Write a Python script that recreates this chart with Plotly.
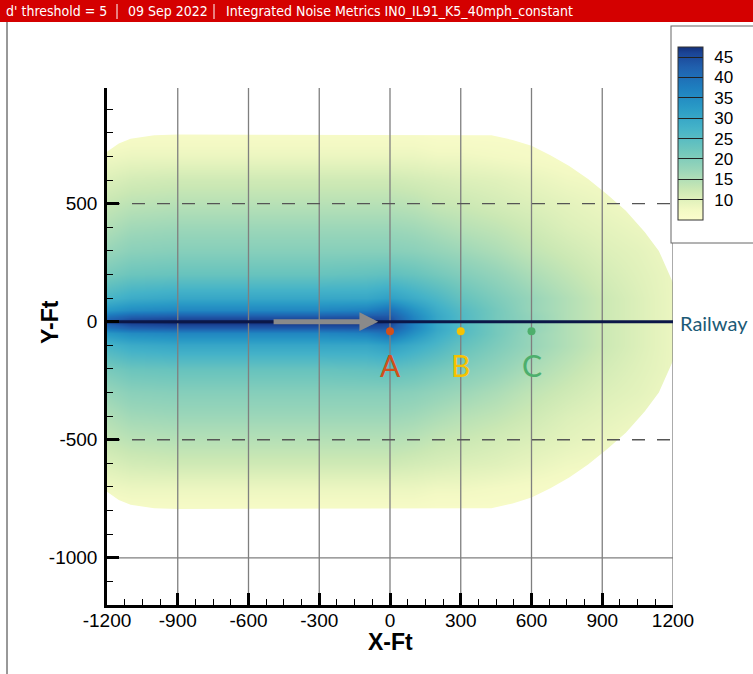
import plotly.graph_objects as go

# ---------------- data ----------------
X_ST = [-1200, -1100, -900, -600, -300, -100, 0, 100, 200, 300, 450, 600, 750, 900, 1050, 1200]
Y_HALF = [0, 25, 50, 100, 200, 300, 400, 500, 600, 700, 800]
# noise metric values, one row per |y| in Y_HALF, one column per x in X_ST
Z_HALF = [
    [44, 47, 48, 48, 48, 48, 46, 37, 30, 26, 21.5, 18, 15, 12.5, 10.5, 8.5],
    [39, 42, 43, 43, 43, 43.5, 43.5, 36, 30, 26, 21.5, 18, 15, 12.5, 10.5, 8.5],
    [33, 35, 36, 36, 36, 37, 40, 34, 29, 25.5, 21.5, 17.5, 15, 12.5, 10.5, 8.5],
    [27, 29, 30, 30, 30, 30, 31.5, 29, 26.5, 23.5, 20.5, 17.5, 15, 12.5, 10.5, 8.5],
    [21, 22.5, 23, 23, 23, 23.5, 24, 23, 21.5, 20, 18, 15.5, 13.5, 11.5, 10, 8.5],
    [17.5, 19, 19.5, 19.5, 19.5, 19.5, 19.5, 19, 18, 17, 15.5, 13.5, 12, 10.5, 9.5, 8],
    [15, 16.5, 17, 17, 17, 17, 17, 16.5, 15.5, 14.5, 13.5, 12, 10.5, 9.5, 8.5, 7.5],
    [13, 14, 14.5, 14.5, 14.5, 14.5, 14.5, 14, 13, 12.5, 11.5, 10.5, 9.5, 8.5, 7.5, 7],
    [10.5, 11.5, 12, 12, 12, 12, 12, 11.5, 11, 10.5, 10, 9, 8, 7.5, 7, 6.5],
    [8, 8.5, 8.5, 8.5, 8.5, 8.5, 8.5, 8.5, 8, 8, 7.5, 7, 6.5, 6.5, 6, 6],
    [6, 6.5, 6.5, 6.5, 6.5, 6.5, 6.5, 6.5, 6, 6, 6, 6, 6, 6, 6, 6],
]
# outline of the zone above threshold (upper half, mirrored below)
BX = [-1200, -1150, -1100, -1000, -900, 430, 520, 600, 680, 760, 840, 920, 1000, 1080, 1140, 1200]
BY = [720, 755, 775, 790, 793, 790, 770, 745, 705, 660, 605, 540, 470, 380, 300, 165]

X_TICKS = [-1200, -900, -600, -300, 0, 300, 600, 900, 1200]
Y_TICKS = [-1000, -500, 0, 500]
CB_TICKS = [10, 15, 20, 25, 30, 35, 40, 45]
GRID_X = [-900, -600, -300, 0, 300, 600, 900, 1200]
GRID_Y_DASH = [500, -500]
GRID_Y_SOLID = [-1000]

RAIL_X = [-1200, 1200]
RAIL_Y = [0, 0]
ARROW_X = [-500, -50]
ARROW_Y = [0, 0]

PT_LABELS = ["A", "B", "C"]
PT_X = [0, 300, 600]
PT_Y = [-40, -40, -40]
PT_LABEL_Y = -185
PT_COLORS = ["#d2501a", "#f7c200", "#4daf6c"]

X_RANGE = [-1200, 1200]
Y_RANGE = [-1200, 990]
Z_MIN, Z_MAX = 5, 47.5

HEADER = ["d' threshold = 5", "09 Sep 2022", "Integrated Noise Metrics IN0_IL91_K5_40mph_constant"]

# ---------------- build full field by mirroring ----------------
y_full = [-v for v in reversed(Y_HALF[1:])] + Y_HALF
z_full = [row for row in reversed(Z_HALF[1:])] + Z_HALF

cvals = [5, 7.5, 10, 12.5, 17.5, 22.5, 27.5, 32.5, 37.5, 42.5, 46, 47.5]
ccols = ["#fcfdcc", "#f3f9c4", "#e0f1bb", "#cbe8b4", "#98d5b9", "#6cc5bd", "#45b3c8",
         "#2a9bc6", "#1e7ebf", "#2060ae", "#1b4496", "#13307a"]
colorscale = [[(v - Z_MIN) / (Z_MAX - Z_MIN), c] for v, c in zip(cvals, ccols)]

# layout geometry in pixels
W, H = 753, 674
PL, PR, PT, PB = 107, 673, 88, 605


def px(x):
    return (x - PL) / (PR - PL)


def py(y):
    return (PB - y) / (PB - PT)


fig = go.Figure()

fig.add_trace(go.Heatmap(
    x=X_ST, y=y_full, z=z_full, zsmooth="best", zmin=Z_MIN, zmax=Z_MAX,
    colorscale=colorscale, hoverinfo="skip",
    colorbar=dict(
        x=px(672), xanchor="left", y=py(133.5), yanchor="middle",
        len=215, lenmode="pixels", thickness=25, thicknessmode="pixels",
        xpad=6, ypad=21, bgcolor="white", bordercolor="#666", borderwidth=1,
        outlinecolor="#333", outlinewidth=1,
        tickmode="array", tickvals=CB_TICKS,
        ticktext=["\u2009\u2009" + str(v) for v in CB_TICKS],
        ticks="inside", ticklen=25, tickwidth=1, tickcolor="#222",
        tickfont=dict(family="Liberation Sans, Arial, sans-serif", size=17, color="black"),
    ),
))

# white masks outside the zone outline
xe0, xe1 = X_RANGE[0] - 60, X_RANGE[1] + 60
top_x = BX + [xe1, xe1, xe0, xe0]
top_y = BY + [BY[-1], Y_RANGE[1] + 100, Y_RANGE[1] + 100, BY[0]]
bot_y = [-v for v in BY] + [-BY[-1], Y_RANGE[0] - 100, Y_RANGE[0] - 100, -BY[0]]
for yy in (top_y, bot_y):
    fig.add_trace(go.Scatter(x=top_x, y=yy, mode="lines", fill="toself",
                             fillcolor="white", line=dict(width=0, color="white"),
                             hoverinfo="skip"))

# grid lines (drawn over the field)
gx, gy = [], []
for v in GRID_X:
    gx += [v, v, None]
    gy += [Y_RANGE[0], Y_RANGE[1], None]
fig.add_trace(go.Scatter(x=gx, y=gy, mode="lines", line=dict(color="#7f7f7f", width=1.3),
                         hoverinfo="skip"))
hx, hy = [], []
for v in GRID_Y_DASH:
    hx += [X_RANGE[0], X_RANGE[1], None]
    hy += [v, v, None]
fig.add_trace(go.Scatter(x=hx, y=hy, mode="lines",
                         line=dict(color="#555", width=1.3, dash="13px,12px"), hoverinfo="skip"))
sx, sy = [], []
for v in GRID_Y_SOLID:
    sx += [X_RANGE[0], X_RANGE[1], None]
    sy += [v, v, None]
fig.add_trace(go.Scatter(x=sx, y=sy, mode="lines", line=dict(color="#7f7f7f", width=1.3),
                         hoverinfo="skip"))

# railway
fig.add_trace(go.Scatter(x=RAIL_X, y=RAIL_Y, mode="lines",
                         line=dict(color="#0b1748", width=3), hoverinfo="skip"))

# points
fig.add_trace(go.Scatter(x=PT_X, y=PT_Y, mode="markers",
                         marker=dict(size=8, color=PT_COLORS), hoverinfo="skip"))

annotations = []
for lab, x, c in zip(PT_LABELS, PT_X, PT_COLORS):
    annotations.append(dict(x=x, y=PT_LABEL_Y, xref="x", yref="y", text=lab, showarrow=False,
                            font=dict(family="Lato, Open Sans, sans-serif", size=30, color=c)))

# travel direction arrow
annotations.append(dict(x=ARROW_X[1], y=ARROW_Y[1], ax=ARROW_X[0], ay=ARROW_Y[0],
                        xref="x", yref="y", axref="x", ayref="y", text="", showarrow=True,
                        arrowhead=2, arrowsize=0.75, arrowwidth=5, arrowcolor="#8a8a8a"))

annotations.append(dict(x=px(678), y=py(323), xref="paper", yref="paper", text="Railway",
                        xanchor="left", yanchor="middle", showarrow=False,
                        font=dict(family="Lato, Open Sans, sans-serif", size=20, color="#1b5a76")))

# axis titles
annotations.append(dict(x=px(390), y=py(642), xref="paper", yref="paper", text="<b>X-Ft</b>",
                        showarrow=False, xanchor="center", yanchor="middle",
                        font=dict(family="Liberation Sans, Arial, sans-serif", size=23, color="black")))
annotations.append(dict(x=px(50), y=py(322), xref="paper", yref="paper", text="<b>Y-Ft</b>",
                        showarrow=False, xanchor="center", yanchor="middle", textangle=-90,
                        font=dict(family="Liberation Sans, Arial, sans-serif", size=23, color="black")))

# header texts
hdr_font = dict(family="Liberation Sans Narrow, DejaVu Sans Condensed, Arial Narrow, sans-serif",
                size=14, color="white")
for txt, xl in zip(HEADER, [4, 126, 224]):
    annotations.append(dict(x=px(xl), y=py(11), xref="paper", yref="paper", text=txt,
                            xanchor="left", yanchor="middle", showarrow=False, font=hdr_font))

shapes = [
    dict(type="rect", xref="paper", yref="paper", x0=px(0), x1=px(W), y0=py(22), y1=py(0),
         fillcolor="#d40000", line=dict(width=0), layer="above"),
    dict(type="line", xref="paper", yref="paper", x0=px(117), x1=px(117), y0=py(4), y1=py(19),
         line=dict(color="white", width=1), layer="above"),
    dict(type="line", xref="paper", yref="paper", x0=px(214), x1=px(214), y0=py(4), y1=py(19),
         line=dict(color="white", width=1), layer="above"),
    dict(type="line", xref="paper", yref="paper", x0=px(7), x1=px(7), y0=py(22), y1=py(H),
         line=dict(color="#333", width=1), layer="above"),
]

tickfont = dict(family="Liberation Sans, Arial, sans-serif", size=19, color="black")
fig.update_layout(
    width=W, height=H,
    margin=dict(l=PL, r=W - PR, t=PT, b=H - PB, pad=0, autoexpand=False),
    plot_bgcolor="white", paper_bgcolor="white", showlegend=False,
    annotations=annotations, shapes=shapes,
    xaxis=dict(range=X_RANGE, tickmode="array", tickvals=X_TICKS,
               ticktext=[str(v) for v in X_TICKS], ticks="inside", ticklen=12,
               tickwidth=2.5, tickcolor="black", showline=True, linewidth=2.5, linecolor="black",
               showgrid=False, zeroline=False, tickfont=tickfont, ticklabelstandoff=-4,
               minor=dict(tickmode="linear", tick0=0, dtick=75, ticks="inside", ticklen=6,
                          tickwidth=1.3, tickcolor="black", showgrid=False)),
    yaxis=dict(range=Y_RANGE, tickmode="array", tickvals=Y_TICKS,
               ticktext=[str(v) for v in Y_TICKS], ticks="inside", ticklen=12,
               tickwidth=2.5, tickcolor="black", showline=True, linewidth=2.5, linecolor="black",
               showgrid=False, zeroline=False, tickfont=tickfont, ticklabelstandoff=3,
               minor=dict(tickmode="linear", tick0=0, dtick=100, ticks="inside", ticklen=6,
                          tickwidth=1.3, tickcolor="black", showgrid=False)),
)

fig.write_html("out.html")
